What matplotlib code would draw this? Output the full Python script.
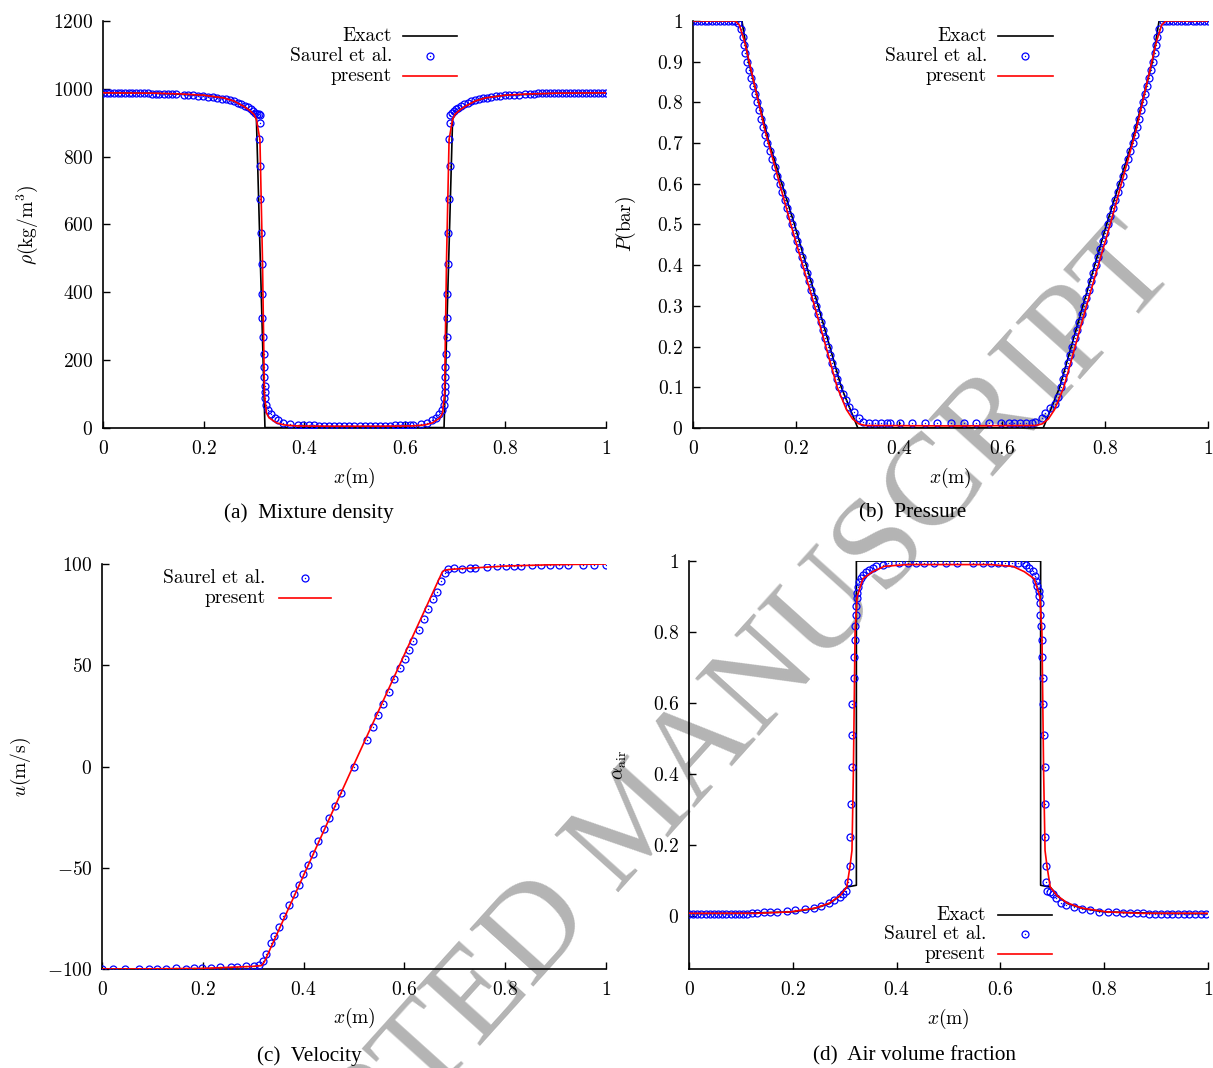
import numpy as np
import matplotlib.pyplot as plt
from matplotlib.ticker import FuncFormatter, MultipleLocator

plt.rcParams['mathtext.fontset'] = 'cm'
plt.rcParams['font.family'] = 'serif'
plt.rcParams['font.serif'] = ['cmr10', 'DejaVu Serif']

# ---------------- (a) mixture density ----------------
rho_exact_x = [0.0, 0.1, 0.2, 0.24, 0.26, 0.28, 0.29, 0.30, 0.305, 0.322, 0.678, 0.695, 0.70,
               0.71, 0.72, 0.74, 0.76, 0.8, 0.9, 1.0]
rho_exact = [988, 987, 981, 973, 964, 948, 938, 925, 910, 1, 1, 910, 925,
             938, 948, 964, 973, 981, 987, 988]

rho_present_x = [0.0, 0.1, 0.15, 0.2, 0.24, 0.26, 0.28, 0.29, 0.30, 0.305, 0.312, 0.317, 0.321,
                 0.325, 0.33, 0.345, 0.36, 0.385, 0.45, 0.55, 0.615, 0.64, 0.655, 0.67, 0.675,
                 0.679, 0.683, 0.688, 0.695, 0.70, 0.71, 0.72, 0.74, 0.76, 0.8, 0.85, 0.9, 1.0]
rho_present = [988, 987, 985, 981, 973, 964, 948, 938, 925, 910, 850, 500, 100,
               44, 30, 15, 9, 6, 5, 5, 6, 9, 15, 30, 44,
               100, 500, 850, 910, 925, 938, 948, 964, 973, 981, 985, 987, 988]

rho_saurel_x = [0.000, 0.007, 0.014, 0.021, 0.029, 0.036, 0.044, 0.051, 0.058, 0.066,
                0.074, 0.081, 0.089, 0.097, 0.105, 0.112, 0.121, 0.129, 0.137, 0.146,
                0.161, 0.169, 0.179, 0.189, 0.199, 0.209, 0.218, 0.226, 0.236, 0.244,
                0.252, 0.260, 0.268, 0.275, 0.282, 0.288, 0.294, 0.299, 0.303, 0.307,
                0.310,
                0.312, 0.313, 0.311, 0.313, 0.313, 0.314, 0.316, 0.317, 0.317, 0.319,
                0.320, 0.320, 0.321, 0.322, 0.322, 0.323, 0.325, 0.329, 0.334, 0.341,
                0.348, 0.358, 0.372, 0.387,
                0.398, 0.41, 0.42, 0.43, 0.44, 0.45, 0.46, 0.47, 0.48, 0.49, 0.50,
                0.51, 0.52, 0.53, 0.54, 0.55, 0.56, 0.57, 0.58, 0.59, 0.60, 0.61,
                0.617, 0.632, 0.645, 0.654, 0.662, 0.668, 0.673, 0.677, 0.678, 0.679,
                0.679, 0.680, 0.680, 0.681, 0.683, 0.683, 0.684, 0.686, 0.686, 0.688,
                0.689, 0.688, 0.689,
                0.690, 0.693, 0.697, 0.701, 0.706, 0.712, 0.718, 0.725, 0.732, 0.740,
                0.748, 0.756, 0.764, 0.772, 0.781, 0.790, 0.799, 0.808, 0.818, 0.828,
                0.838, 0.848, 0.856, 0.864, 0.872, 0.880, 0.888, 0.896, 0.904, 0.912,
                0.920, 0.928, 0.936, 0.944, 0.952, 0.960, 0.968, 0.976, 0.984, 0.992,
                1.000]
rho_saurel = [988, 988, 988, 988, 988, 988, 988, 988, 987, 987,
              987, 987, 987, 986, 986, 986, 985, 985, 984, 984,
              982, 982, 981, 980, 979, 977, 976, 974, 971, 969,
              966, 963, 959, 955, 950, 945, 940, 935, 930, 927,
              926,
              924, 899, 853, 772, 675, 576, 482, 396, 325, 268,
              219, 180, 150, 125, 105, 88, 68, 53, 40, 30,
              22, 16, 12, 10,
              9, 8, 8, 7, 7, 7, 7, 7, 6, 6, 6,
              6, 6, 7, 7, 7, 7, 7, 8, 8, 9, 9,
              10, 12, 16, 22, 30, 40, 53, 68, 88, 105,
              125, 150, 180, 219, 268, 325, 396, 482, 576, 675,
              772, 853, 899,
              924, 929, 934, 939, 944, 949, 954, 959, 963, 966,
              969, 972, 974, 976, 978, 980, 981, 982, 983, 983,
              984, 985, 986, 987, 987, 988, 988, 988, 988, 988,
              988, 988, 988, 988, 988, 988, 988, 988, 988, 988,
              988]

# ---------------- (b) pressure ----------------
p_exact_x = [0.0, 0.095, 0.108, 0.148, 0.197, 0.243, 0.288, 0.320,
             0.680, 0.712, 0.757, 0.803, 0.852, 0.892, 0.905, 1.0]
p_exact = [1.0, 1.0, 0.9, 0.7, 0.5, 0.3, 0.1, 0.0,
           0.0, 0.1, 0.3, 0.5, 0.7, 0.9, 1.0, 1.0]

p_present_x = [0.0, 0.082, 0.090, 0.100, 0.140, 0.190, 0.236, 0.280, 0.298, 0.310, 0.322,
               0.335, 0.500, 0.665, 0.678, 0.690, 0.702, 0.720, 0.764, 0.810, 0.860,
               0.900, 0.910, 0.918, 1.0]
p_present = [1.0, 1.0, 0.99, 0.95, 0.73, 0.5, 0.3, 0.1, 0.045, 0.022, 0.01,
             0.006, 0.005, 0.006, 0.01, 0.022, 0.045, 0.1, 0.3, 0.5, 0.73,
             0.95, 0.99, 1.0, 1.0]

p_saurel_x = [0.0, 0.0075, 0.015, 0.0225, 0.03, 0.0375, 0.045, 0.0525, 0.06, 0.0675,
              0.075, 0.0825, 0.088,
              0.0936, 0.0962, 0.0988, 0.1014, 0.104, 0.108, 0.112, 0.116, 0.120, 0.124,
              0.128, 0.132, 0.136, 0.140, 0.144, 0.1489, 0.1538, 0.1587, 0.1636, 0.1685,
              0.1734, 0.1783, 0.1832, 0.1881, 0.193, 0.1976, 0.2022, 0.2068, 0.2114, 0.216,
              0.2206, 0.2252, 0.2298, 0.2344, 0.239, 0.2435, 0.248, 0.2525, 0.257, 0.2615,
              0.266, 0.2705, 0.275, 0.2795, 0.284,
              0.291, 0.297, 0.303, 0.312, 0.323, 0.331, 0.342,
              0.353, 0.365, 0.376, 0.383, 0.402, 0.425, 0.451, 0.474, 0.5, 0.526,
              0.549, 0.575, 0.598, 0.613, 0.624, 0.635, 0.647, 0.658,
              0.665, 0.677, 0.684, 0.694, 0.703, 0.709,
              0.714, 0.7185, 0.723, 0.7275, 0.732, 0.7365, 0.741, 0.7455, 0.750, 0.7545,
              0.759, 0.7636, 0.7682, 0.7728, 0.7774, 0.782, 0.7866, 0.7912, 0.7958, 0.8004,
              0.805, 0.8099, 0.8148, 0.8197, 0.8246, 0.8295, 0.8344, 0.8393, 0.8442, 0.8491,
              0.854, 0.858, 0.862, 0.866, 0.870, 0.874, 0.878, 0.882, 0.886, 0.890,
              0.894, 0.8966, 0.8992, 0.9018, 0.9044,
              0.912, 0.918, 0.925, 0.932, 0.94, 0.947, 0.955, 0.962, 0.97, 0.977,
              0.985, 0.992, 1.0]
p_saurel = [1.0, 1.0, 1.0, 1.0, 1.0, 1.0, 1.0, 1.0, 1.0, 1.0,
            1.0, 1.0, 0.995,
            0.98, 0.96, 0.94, 0.92, 0.90, 0.88, 0.86, 0.84, 0.82, 0.80,
            0.78, 0.76, 0.74, 0.72, 0.70, 0.68, 0.66, 0.64, 0.62, 0.60,
            0.58, 0.56, 0.54, 0.52, 0.50, 0.48, 0.46, 0.44, 0.42, 0.40,
            0.38, 0.36, 0.34, 0.32, 0.30, 0.28, 0.26, 0.24, 0.22, 0.20,
            0.18, 0.16, 0.14, 0.12, 0.10,
            0.083, 0.069, 0.052, 0.038, 0.025, 0.015, 0.012,
            0.011, 0.011, 0.011, 0.011, 0.011, 0.011, 0.011, 0.011, 0.011, 0.011,
            0.011, 0.011, 0.011, 0.011, 0.011, 0.011, 0.011, 0.011,
            0.015, 0.025, 0.036, 0.048, 0.06, 0.075,
            0.10, 0.12, 0.14, 0.16, 0.18, 0.20, 0.22, 0.24, 0.26, 0.28,
            0.30, 0.32, 0.34, 0.36, 0.38, 0.40, 0.42, 0.44, 0.46, 0.48,
            0.50, 0.52, 0.54, 0.56, 0.58, 0.60, 0.62, 0.64, 0.66, 0.68,
            0.70, 0.72, 0.74, 0.76, 0.78, 0.80, 0.82, 0.84, 0.86, 0.88,
            0.90, 0.92, 0.94, 0.96, 0.98,
            1.0, 1.0, 1.0, 1.0, 1.0, 1.0, 1.0, 1.0, 1.0, 1.0,
            1.0, 1.0, 1.0]

# ---------------- (c) velocity ----------------
u_present_x = [0.0, 0.1, 0.2, 0.3, 0.317, 0.322, 0.498, 0.675, 0.680, 0.69, 0.7, 0.8, 0.9, 1.0]
u_present = [-100, -99.9, -99.7, -98.7, -98.3, -96.5, 0, 96, 97, 97.3, 97.5, 99, 99.7, 100]

u_saurel_x = [0.0, 0.0225, 0.0456, 0.0741, 0.0939, 0.1098, 0.127, 0.1468, 0.1667, 0.1825,
              0.1978, 0.2156, 0.2341, 0.256, 0.2672, 0.2857, 0.3016, 0.3122, 0.3201, 0.3254,
              0.3353, 0.3413, 0.3512, 0.3598, 0.371, 0.3816, 0.3909, 0.399, 0.408, 0.419,
              0.429, 0.44, 0.45, 0.462, 0.474, 0.499, 0.525, 0.537, 0.548, 0.558,
              0.57, 0.58, 0.591, 0.601, 0.61, 0.618, 0.629, 0.638, 0.647, 0.656,
              0.664, 0.673, 0.68, 0.687, 0.699, 0.714, 0.73, 0.741, 0.764, 0.784,
              0.802, 0.817, 0.832, 0.854, 0.871, 0.889, 0.906, 0.925, 0.954, 0.977,
              1.0]
u_saurel = [-100, -100, -100, -100, -100, -100, -99.8, -99.6, -99.8, -99.6,
            -99.6, -99.6, -99.2, -98.8, -98.8, -98.4, -98.4, -98.2, -96, -92.4,
            -87, -83.5, -79.2, -74, -68.2, -62.8, -58.3, -52.9, -48.4, -43,
            -36.9, -31.1, -25.6, -19.5, -13.2, 0, 13.2, 19.3, 25.6, 30.9,
            37, 43, 48.6, 52.9, 57.4, 62, 67.6, 73, 78, 82.5,
            86.3, 91.6, 95.7, 97.4, 97.9, 97.5, 97.9, 98.2, 98.7, 99.2,
            99.2, 99.2, 99.2, 99.5, 99.5, 99.5, 99.5, 99.5, 99.5, 99.5,
            99.5]

# ---------------- (d) air volume fraction ----------------
a_exact_x = [0.0, 0.1, 0.2, 0.24, 0.27, 0.29, 0.304, 0.3225, 0.3225, 0.6775, 0.6775,
             0.696, 0.71, 0.73, 0.76, 0.8, 0.9, 1.0]
a_exact = [0.006, 0.007, 0.011, 0.02, 0.034, 0.055, 0.081, 0.086, 1.0, 1.0, 0.086,
           0.081, 0.055, 0.034, 0.02, 0.011, 0.007, 0.006]

a_present_x = [0.0, 0.13, 0.195, 0.244, 0.271, 0.291, 0.304, 0.310, 0.314, 0.3167,
               0.320, 0.324, 0.335, 0.354, 0.376, 0.42, 0.58, 0.624, 0.646, 0.665,
               0.676, 0.680, 0.6833, 0.686, 0.690, 0.696, 0.709, 0.729, 0.756, 0.805,
               0.87, 1.0]
a_present = [0.007, 0.007, 0.011, 0.022, 0.036, 0.057, 0.081, 0.137, 0.184, 0.4,
             0.8, 0.9, 0.95, 0.97, 0.985, 0.99, 0.99, 0.985, 0.97, 0.95,
             0.9, 0.8, 0.4, 0.184, 0.137, 0.081, 0.057, 0.036, 0.022, 0.011,
             0.007, 0.007]

a_saurel_x = [0.0, 0.008, 0.016, 0.024, 0.032, 0.040, 0.048, 0.056, 0.064, 0.072,
              0.080, 0.088, 0.096, 0.104, 0.112, 0.122, 0.131, 0.144, 0.157, 0.170,
              0.188, 0.205, 0.223, 0.240, 0.254, 0.270, 0.280, 0.290, 0.296, 0.303,
              0.306,
              0.311, 0.311, 0.313, 0.314, 0.314, 0.315, 0.317, 0.317, 0.319, 0.320,
              0.321, 0.322, 0.323, 0.324, 0.326, 0.328, 0.332, 0.335, 0.341, 0.347,
              0.354, 0.361, 0.373,
              0.384, 0.404, 0.421, 0.438, 0.453, 0.473, 0.496, 0.517, 0.548, 0.567,
              0.582, 0.595, 0.608, 0.623, 0.634, 0.645,
              0.649, 0.656, 0.662, 0.666, 0.669, 0.671, 0.674, 0.675, 0.676, 0.677,
              0.679, 0.680, 0.681, 0.682, 0.683, 0.684, 0.685, 0.685, 0.686, 0.687,
              0.688, 0.690, 0.695, 0.701, 0.708, 0.717, 0.727, 0.741, 0.758, 0.773,
              0.790, 0.807, 0.822, 0.836, 0.849, 0.863, 0.875,
              0.887, 0.898, 0.909, 0.920, 0.931, 0.942, 0.953, 0.964, 0.975, 0.986,
              0.997]
a_saurel = [0.006, 0.006, 0.006, 0.006, 0.006, 0.006, 0.006, 0.006, 0.006, 0.006,
            0.006, 0.006, 0.006, 0.006, 0.006, 0.008, 0.009, 0.010, 0.011, 0.012,
            0.013, 0.016, 0.018, 0.023, 0.027, 0.036, 0.044, 0.053, 0.061, 0.070,
            0.094,
            0.14, 0.221, 0.316, 0.418, 0.51, 0.597, 0.67, 0.73, 0.776, 0.816,
            0.848, 0.873, 0.895, 0.911, 0.926, 0.94, 0.952, 0.961, 0.969, 0.975,
            0.981, 0.986, 0.99,
            0.994, 0.994, 0.994, 0.994, 0.994, 0.994, 0.994, 0.994, 0.994, 0.994,
            0.994, 0.994, 0.994, 0.994, 0.994, 0.994,
            0.988, 0.981, 0.971, 0.959, 0.945, 0.93, 0.916, 0.902, 0.883, 0.848,
            0.816, 0.776, 0.73, 0.67, 0.597, 0.51, 0.418, 0.316, 0.221, 0.14,
            0.094, 0.07, 0.068, 0.06, 0.05, 0.036, 0.029, 0.024, 0.019, 0.0155,
            0.012, 0.011, 0.010, 0.009, 0.009, 0.008, 0.007,
            0.006, 0.006, 0.006, 0.006, 0.006, 0.006, 0.006, 0.006, 0.006, 0.006,
            0.006]

BLUE = '#0000ff'
RED = '#ff0000'
FS = 14


def style_axes(ax, xlim, ylim, ystep, ylabel, ylabel_x):
    ax.set_facecolor('none')
    ax.set_xlim(*xlim)
    ax.set_ylim(*ylim)
    for s in ['top', 'right']:
        ax.spines[s].set_visible(False)
    for s in ['left', 'bottom']:
        ax.spines[s].set_linewidth(1.2)
    ax.xaxis.set_major_locator(MultipleLocator(0.2))
    ax.yaxis.set_major_locator(MultipleLocator(ystep))
    fmt = FuncFormatter(lambda v, pos: f'${v:g}$')
    ax.xaxis.set_major_formatter(fmt)
    ax.yaxis.set_major_formatter(fmt)
    ax.tick_params(direction='in', length=5, width=1, labelsize=FS, top=False, right=False)
    ax.tick_params(axis='x', pad=9)
    ax.tick_params(axis='y', pad=7)
    ax.set_xlabel(r'$x(\mathrm{m})$', fontsize=FS)
    ax.set_ylabel(ylabel, fontsize=FS)
    ax.xaxis.set_label_coords(0.5, -0.092)
    ax.yaxis.set_label_coords(ylabel_x, 0.5)
    ax.yaxis.label.set_va('center')


def saurel(ax, x, y):
    ax.plot(x, y, linestyle='none', marker='o', ms=5, mfc='none', mec=BLUE, mew=0.9, zorder=3)
    ax.plot(x, y, linestyle='none', marker='o', ms=1.0, mfc=BLUE, mec=BLUE, mew=0, zorder=3)


def key(ax, xt, x0, x1, rows):
    for label, kind, y in rows:
        ax.text(xt, y, label, transform=ax.transAxes, ha='right', va='center',
                fontsize=FS, family='cmr10')
        xm = 0.5 * (x0 + x1)
        if kind == 'exact':
            ax.plot([x0, x1], [y, y], transform=ax.transAxes, color='k', lw=1.2, clip_on=False)
        elif kind == 'present':
            ax.plot([x0, x1], [y, y], transform=ax.transAxes, color=RED, lw=1.2, clip_on=False)
        else:
            ax.plot([xm], [y], transform=ax.transAxes, ls='none', marker='o', ms=5,
                    mfc='none', mec=BLUE, mew=0.9, clip_on=False)
            ax.plot([xm], [y], transform=ax.transAxes, ls='none', marker='o', ms=1.0,
                    mfc=BLUE, mec=BLUE, mew=0, clip_on=False)


fig = plt.figure(figsize=(12.13, 10.68), dpi=100)
fig.patch.set_facecolor('white')

ax_a = fig.add_axes([0.0849, 0.5993, 0.4147, 0.3811])
ax_b = fig.add_axes([0.5713, 0.5993, 0.4246, 0.3811])
ax_c = fig.add_axes([0.0841, 0.0927, 0.4155, 0.3792])
ax_d = fig.add_axes([0.5680, 0.0927, 0.4279, 0.3820])

# (a)
ax_a.plot(rho_exact_x, rho_exact, color='k', lw=1.2, zorder=2)
saurel(ax_a, rho_saurel_x, rho_saurel)
ax_a.plot(rho_present_x, rho_present, color=RED, lw=1.2, zorder=4)
style_axes(ax_a, (0, 1), (0, 1200), 200, r'$\rho(\mathrm{kg/m^3})$', -0.150)
key(ax_a, 0.575, 0.596, 0.704, [('Exact', 'exact', 0.963), ('Saurel et al.', 'saurel', 0.914),
                                ('present', 'present', 0.865)])

# (b)
ax_b.plot(p_exact_x, p_exact, color='k', lw=1.2, zorder=2)
saurel(ax_b, p_saurel_x, p_saurel)
ax_b.plot(p_present_x, p_present, color=RED, lw=1.2, zorder=4)
style_axes(ax_b, (0, 1), (0, 1), 0.1, r'$P(\mathrm{bar})$', -0.130)
key(ax_b, 0.571, 0.592, 0.699, [('Exact', 'exact', 0.963), ('Saurel et al.', 'saurel', 0.914),
                                ('present', 'present', 0.865)])

# (c)
saurel(ax_c, u_saurel_x, u_saurel)
ax_c.plot(u_present_x, u_present, color=RED, lw=1.2, zorder=4)
style_axes(ax_c, (0, 1), (-100, 100), 50, r'$u(\mathrm{m/s})$', -0.160)
key(ax_c, 0.325, 0.351, 0.454, [('Saurel et al.', 'saurel', 0.965), ('present', 'present', 0.916)])

# (d)
ax_d.plot(a_exact_x, a_exact, color='k', lw=1.2, zorder=2)
saurel(ax_d, a_saurel_x, a_saurel)
ax_d.plot(a_present_x, a_present, color=RED, lw=1.2, zorder=4)
style_axes(ax_d, (0, 1), (-0.15, 1), 0.2, r'$\alpha_{\mathrm{air}}$', -0.133)
ax_d.set_yticks([0, 0.2, 0.4, 0.6, 0.8, 1.0])
key(ax_d, 0.572, 0.595, 0.699, [('Exact', 'exact', 0.132), ('Saurel et al.', 'saurel', 0.086),
                                ('present', 'present', 0.037)])

# sub-captions
cap = dict(ha='center', va='center', fontsize=15.3, family='Liberation Serif')
fig.text(0.2547, 0.5197, '(a)  Mixture density', **cap)
fig.text(0.752, 0.5197, '(b)  Pressure', **cap)
fig.text(0.2552, 0.0112, '(c)  Velocity', **cap)
fig.text(0.754, 0.0112, '(d)  Air volume fraction', **cap)

# watermark
fig.text(0.526, 0.2285, 'ACCEPTED MANUSCRIPT', rotation=48, rotation_mode='anchor',
         ha='center', va='center', fontsize=94, color='#b4b4b4',
         family='Liberation Serif', zorder=-10)

fig.savefig('out.png', dpi=100)
